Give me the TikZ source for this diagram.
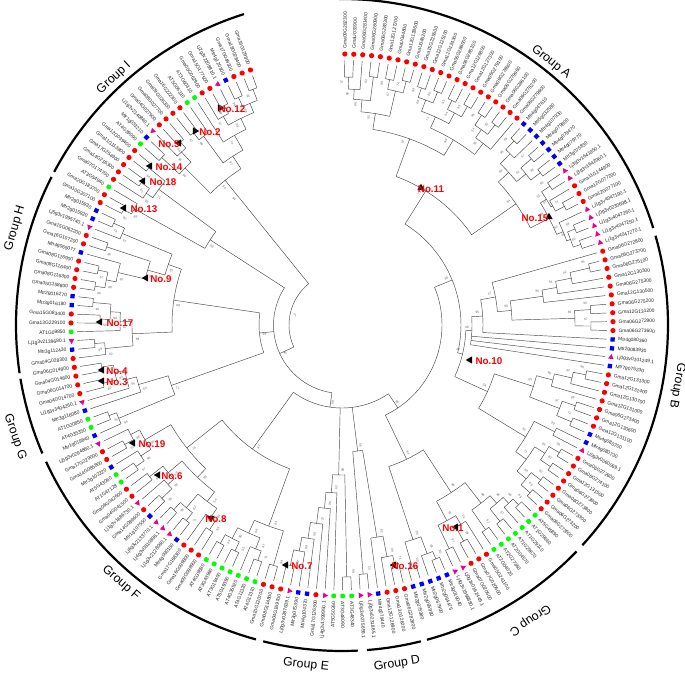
\documentclass[tikz,border=0pt]{standalone}
\usepackage{fontspec}
\setmainfont{Liberation Sans}
\usetikzlibrary{shapes.geometric}
\newcount\supc
\newcommand\lf[3]{%
  \pgfmathsetmacro\ang{89.4-1.887*#1}%
  \expandafter\xdef\csname na@#1\endcsname{\ang}%
  \expandafter\xdef\csname nr@#1\endcsname{265}%
  \node[mk#2,rotate=\ang] (m#1) at (\ang:271) {};%
  \ifdim\ang pt<-90pt
    \pgfmathsetmacro\rang{\ang+180}%
    \node[lab,anchor=east,rotate=\rang] (t#1) at (\ang:276.5) {#3};%
  \else
    \node[lab,anchor=west,rotate=\ang] (t#1) at (\ang:276.5) {#3};%
  \fi}
\newcommand\cl[4][]{%
  \gdef\clfirst{}%
  \foreach \ch in {#4}{%
    \edef\cha{\csname na@\ch\endcsname}%
    \edef\chr{\csname nr@\ch\endcsname}%
    \draw[br] (\cha:#3) -- (\cha:\chr);%
    \ifx\clfirst\empty\xdef\clfirst{\cha}\fi
    \xdef\cllast{\cha}%
  }%
  \def\cltmp{#1}%
  \ifx\cltmp\empty
    \pgfmathsetmacro\clmid{(\clfirst+\cllast)/2}%
  \else
    \def\clmid{#1}%
  \fi
  \pgfmathsetmacro\arcs{max(\clfirst,\clmid)}%
  \pgfmathsetmacro\arce{min(\cllast,\clmid)}%
  \draw[br] (\arcs:#3) arc[start angle=\arcs,end angle=\arce,radius=#3pt];%
  \expandafter\xdef\csname na@#2\endcsname{\clmid}%
  \expandafter\xdef\csname nr@#2\endcsname{#3}%
  \global\advance\supc by 1
  \pgfmathtruncatemacro\sv{{99,57,96,62,88,99,74,97,55,99,80,68,93,99,64,71,99,82,54,95,99,67,89}[mod(\the\supc,23)]}%
  \pgfmathsetmacro\sang{\clmid+1.6}%
  \ifdim\clmid pt<-90pt
    \pgfmathsetmacro\srot{\clmid+180}%
  \else
    \pgfmathsetmacro\srot{\clmid}%
  \fi
  \node[sup,rotate=\srot] (s#2) at (\sang:#3-5) {\sv};}
\newcommand\nolab[5]{%
  \node[tri,rotate=#3] (k#5) at ({#1-342},{325-#2}) {};%
  \node[nol] (n#5) at ({#4-342},{325-#2-1}) {No.#5};}
\newcommand\garc[4]{%
  \draw[garc] (#2:326) arc[start angle=#2,end angle=#3,radius=326pt];}
\begin{document}
\begin{tikzpicture}[x=1pt,y=1pt,
  br/.style={draw=black!72,line width=0.45pt},
  lab/.style={font=\fontsize{4.9}{5.5}\selectfont,text=black!85,inner sep=0pt},
  sup/.style={font=\fontsize{3.2}{3.5}\selectfont,text=black!60,inner sep=0pt},
  mkr/.style={circle,fill=red,inner sep=0pt,minimum size=5.2pt},
  mkb/.style={rectangle,fill=blue,inner sep=0pt,minimum size=4.3pt},
  mkg/.style={rectangle,rounded corners=1pt,fill=green,inner sep=0pt,minimum size=4.5pt},
  mkm/.style={regular polygon,regular polygon sides=3,fill=magenta,inner sep=0pt,minimum size=6.5pt},
  grp/.style={font=\fontsize{12.3}{14}\selectfont,inner sep=0pt},
  nol/.style={font=\fontsize{9.8}{11}\selectfont\bfseries,text=red,inner sep=0pt},
  tri/.style={regular polygon,regular polygon sides=3,fill=black,inner sep=0pt,minimum size=8.5pt},
  garc/.style={line width=2.2pt,black}]
\fill[white] (-342,-349) rectangle (343,325);
\useasboundingbox (-342,-349) rectangle (343,325);
% ---------------- leaves
\lf{0}{r}{Gma09G282300}\lf{1}{r}{GmaU033900}\lf{2}{r}{Gma06G281400}\lf{3}{r}{Gma06G280900}
\lf{4}{r}{Gma06G283300}\lf{5}{r}{Gma12G127200}\lf{6}{r}{GmaU044800}\lf{7}{r}{Gma12G128600}
\lf{8}{r}{GmaU045200}\lf{9}{r}{Gma15G225500}\lf{10}{r}{Gma12G125100}\lf{11}{r}{Gma12G124300}
\lf{12}{r}{Gma06G286000}\lf{13}{r}{Gma06G285100}\lf{14}{r}{Gma12G126800}\lf{15}{r}{Gma12G127300}
\lf{16}{r}{Gma06G279100}\lf{17}{r}{Gma06G278600}\lf{18}{r}{Gma06G279960}\lf{19}{r}{Gma06G286100}
\lf{20}{r}{Gma06G278200}\lf{21}{r}{Gma06G279600}\lf{22}{b}{Mtr4g047610}\lf{23}{b}{Mtr5g032580}
\lf{24}{b}{Mtr4g107930}\lf{25}{b}{Mtr4g079800}\lf{26}{b}{Mtr4g079470}\lf{27}{b}{Mtr4g079770}
\lf{28}{b}{Mtr3g075830}\lf{29}{m}{Lj3g3v1641950.1}\lf{30}{m}{Lj3g3v1642060.1}\lf{31}{r}{Gma11G144900}
\lf{32}{r}{Gma12G077200}\lf{33}{r}{Gma12G077100}\lf{34}{m}{Lj1g3v4047190.1}\lf{35}{m}{Lj0g3v0230698.1}
\lf{36}{m}{Lj1g3v4047260.1}\lf{37}{m}{Lj1g3v4047250.1}\lf{38}{m}{Lj1g3v4047270.1}
\lf{39}{r}{Gma06G272800}\lf{40}{r}{Gma06G273700}\lf{41}{r}{Gma06G275100}\lf{42}{r}{Gma12G130300}
\lf{43}{r}{Gma06G275300}\lf{44}{r}{Gma12G130500}\lf{45}{r}{Gma06G275200}\lf{46}{r}{Gma12G131200}
\lf{47}{r}{Gma06G272900}\lf{48}{r}{Gma06G273600}\lf{49}{b}{Mtr4g080360}\lf{50}{b}{Mtr2g083930}
\lf{51}{m}{Lj0g3v0101249.1}\lf{52}{b}{Mtr7g075230}\lf{53}{r}{Gma12G131300}\lf{54}{r}{Gma12G131400}
\lf{55}{r}{Gma12G130700}\lf{56}{r}{Gma12G131000}\lf{57}{r}{Gma06G273400}\lf{58}{r}{Gma12G130600}
\lf{59}{r}{Gma12G131100}\lf{60}{b}{Mtr4g080700}\lf{61}{b}{Mtr4g080730}\lf{62}{m}{Lj0g3v0060069.1}
\lf{63}{r}{Gma06G272600}\lf{64}{r}{Gma06G274100}\lf{65}{r}{Gma12G131500}\lf{66}{r}{Gma06G273900}
\lf{67}{r}{Gma06G273800}\lf{68}{r}{Gma06G273300}\lf{69}{r}{Gma06G273200}\lf{70}{r}{Gma06G273500}
\lf{71}{g}{AT5G45890}\lf{72}{g}{AT1G29660}\lf{73}{g}{AT1G29110}\lf{74}{g}{AT1G29670}
\lf{75}{g}{AT2G04570}\lf{76}{g}{AT2G27360}\lf{77}{g}{AT2G04020}\lf{78}{r}{Gma05G241100}
\lf{79}{r}{Gma07G020600}\lf{80}{r}{Gma07G020500}\lf{81}{m}{Lj0g3v0162449.1}\lf{82}{m}{Lj4g3v1998880.1}
\lf{83}{b}{Mtr3g019040}\lf{84}{b}{Mtr2g064475}\lf{85}{b}{Mtr2g067900}\lf{86}{b}{Mtr2g065980}
\lf{87}{b}{Mtr2g075380}\lf{88}{r}{Gma06G282800}\lf{89}{r}{Gma13G126200}\lf{90}{r}{Gma12G126900}
\lf{91}{b}{Mtr4g079440}\lf{92}{m}{Lj0g3v0231865.1}\lf{93}{m}{Lj0g3v0275659.1}\lf{94}{g}{AT3G48340}
\lf{95}{g}{AT3G48090}\lf{96}{g}{AT5G50260}\lf{97}{m}{Lj4g3v1399950.1}\lf{98}{r}{Gma17G126300}
\lf{99}{b}{Mtr4g104370}\lf{100}{b}{Mtr3g075390}\lf{101}{m}{Lj0g3v0287639.1}\lf{102}{r}{Gma04G169700}
\lf{103}{r}{Gma08G114800}\lf{104}{r}{Gma10G120700}\lf{105}{g}{AT4G11310}\lf{106}{g}{AT4G11320}
\lf{107}{g}{AT4G35520}\lf{108}{g}{AT5G19390}\lf{109}{g}{AT3G19400}\lf{110}{g}{AT3G43960}
\lf{111}{g}{AT4G39880}\lf{112}{r}{Gma09G098900}\lf{113}{r}{Gma16G099800}\lf{114}{r}{Gma17G168300}
\lf{115}{b}{Mtr4g090150}\lf{116}{m}{Lj1g3v2128060.1}\lf{117}{m}{Lj4g3v0810896.1}\lf{118}{m}{Lj6g3v2133770.1}
\lf{119}{b}{Mtr1g107550}\lf{120}{r}{Gma14G089600}\lf{121}{m}{Lj1g3v1686730.1}\lf{122}{r}{Gma04G041500}
\lf{123}{r}{Gma06G042600}\lf{124}{g}{AT1G47128}\lf{125}{g}{AT5G43060}\lf{126}{b}{Mtr3g102220}
\lf{127}{r}{Gma14G085800}\lf{128}{r}{Gma17G229000}\lf{129}{m}{Lj5g3v0294860.1}\lf{130}{b}{Mtr1g019840}
\lf{131}{g}{AT4G35350}\lf{132}{g}{AT1G20850}\lf{133}{b}{Mtr3g116080}\lf{134}{m}{Lj1g3v3404260.1}
\lf{135}{r}{Gma04G014700}\lf{136}{r}{Gma06G014700}\lf{137}{r}{Gma04G014800}\lf{138}{r}{Gma06G014800}
\lf{139}{r}{Gma04G028300}\lf{140}{b}{Mtr3g112430}\lf{141}{m}{Lj1g3v2139680.1}\lf{142}{g}{AT1G09850}
\lf{143}{r}{Gma13G229100}\lf{144}{r}{Gma15G083400}\lf{145}{b}{Mtr3g016180}\lf{146}{b}{Mtr2g016270}
\lf{147}{r}{Gma05G158800}\lf{148}{r}{Gma08G116300}\lf{149}{r}{Gma08G116400}\lf{150}{r}{Gma08G116900}
\lf{151}{b}{Mtr4g065077}\lf{152}{r}{Gma16G107200}\lf{153}{r}{Gma15G062200}\lf{154}{m}{Lj5g3v1995740.1}
\lf{155}{b}{Mtr2g015920}\lf{156}{b}{Mtr2g015930}\lf{157}{r}{Gma10G207100}\lf{158}{r}{Gma20G183700}
\lf{159}{g}{AT3G54940}\lf{160}{r}{Gma07G174700}\lf{161}{r}{Gma14G216300}\lf{162}{r}{Gma17G254900}
\lf{163}{r}{Gma11G113800}\lf{164}{r}{Gma12G039400}\lf{165}{g}{AT4G39090}\lf{166}{b}{Mtr1g033210}
\lf{167}{m}{Lj1g3v2140860.1}\lf{168}{r}{Gma04G027900}\lf{169}{r}{Gma08G027700}\lf{170}{r}{Gma09G026300}
\lf{171}{r}{Gma16G222300}\lf{172}{g}{AT5G06310}\lf{173}{g}{AT3G60310}\lf{174}{r}{Gma05G062900}
\lf{175}{r}{Gma15G177500}\lf{176}{m}{Lj2g3v2208810.1}\lf{177}{b}{Mtr4g120300}\lf{178}{r}{Gma17G049300}
\lf{179}{r}{Gma18G028400}\lf{180}{r}{Gma16G129800}
% ---------------- Group A
\cl{a1}{248}{0,1}\cl{a2}{236}{a1,2}\cl{a3}{250}{3,4}\cl{a4}{226}{a2,a3}
\cl{a5}{250}{5,6}\cl{a6}{252}{7,8}\cl{a7}{240}{a5,a6}\cl{a8}{214}{a4,a7}
\cl{a9}{250}{9,10}\cl{a10}{252}{11,12}\cl{a11}{240}{a9,a10}\cl{a12}{250}{13,14}
\cl{a13}{252}{15,16}\cl{a14}{240}{a12,a13}\cl{a15}{228}{a11,a14}\cl{a16}{252}{17,18}
\cl{a17}{252}{19,20}\cl{a18}{240}{a16,a17}\cl{a19}{230}{a18,21}\cl{a20}{216}{a15,a19}
\cl{a21}{198}{a8,a20}\cl{a22}{252}{22,23}\cl{a23}{240}{a22,24}\cl{a24}{252}{25,26}
\cl{a25}{250}{27,28}\cl{a26}{238}{a24,a25}\cl{a27}{226}{a23,a26}\cl{a28}{250}{29,30}
\cl{a29}{252}{32,33}\cl{a30}{242}{31,a29}\cl{a31}{240}{a28,a30}\cl{a32}{252}{35,36}
\cl{a33}{252}{37,38}\cl{a34}{244}{a32,a33}\cl{a35}{240}{34,a34}\cl{a36}{233}{a31,a35}
\cl{a37}{212}{a27,a36}\cl[58]{a38}{158}{a21,a37}
% ---------------- Group B
\cl{b1}{254}{40,41}\cl{b2}{234}{b1,42}\cl{b3}{218}{b2,43}\cl{b4}{203}{b3,44}
\cl{b5}{249}{45,46}\cl{b6}{249}{47,48}\cl{b7}{233}{b5,b6}\cl{b8}{170}{b4,b7}
\cl{b9}{156}{39,b8}\cl{b10}{249}{53,54}\cl{b11}{236}{b10,55}\cl{b12}{218}{b11,56}
\cl{b13}{247}{57,58}\cl{b14}{249}{59,60}\cl{b15}{233}{b13,b14}\cl{b16}{201}{b12,b15}
\cl{b18}{252}{63,64}\cl{b19}{252}{65,66}\cl{b20}{240}{b18,b19}\cl{b21}{252}{67,68}
\cl{b22}{252}{69,70}\cl{b23}{240}{b21,b22}\cl{b24}{228}{b20,b23}\cl{b25}{238}{61,62}
\cl{b26}{215}{b25,b24}\cl{b27}{160}{b16,b26}\cl{b30}{141}{b9,49}\cl{b31}{130}{b30,50,51,52}
\cl{b32}{124}{b31,b27}
% ---------------- Groups C, D
\cl{c1}{252}{71,72}\cl{c2}{244}{c1,73}\cl{c3}{252}{74,75}\cl{c4}{236}{c2,c3}
\cl{c5}{250}{76,77}\cl{c6}{226}{c4,c5}\cl{c7}{248}{79,80}\cl{c8}{232}{78,c7}
\cl{c9}{248}{81,82}\cl{c10}{222}{c8,c9}\cl{c11}{200}{c6,c10}\cl{c12}{252}{83,84}
\cl{c13}{244}{c12,85}\cl{c14}{252}{86,87}\cl{c15}{226}{c13,c14}\cl{cgrp}{149}{c11,c15}
\cl{d1}{245}{88,89}\cl{d2}{236}{d1,90}\cl{d3}{215}{d2,91}\cl{d4}{250}{92,93}
\cl{d5}{127}{d3,d4}
% ---------------- Group E
\cl{e1}{252}{94,95}\cl{e2}{246}{101,102}\cl{e3}{230}{100,e2}\cl{e4}{216}{99,e3}
\cl{e5}{200}{98,e4}\cl{e6}{184}{97,e5}\cl{e7}{168}{96,e6}\cl{e8}{150}{e1,e7}
% ---------------- Group F
\cl{f1}{250}{103,104}\cl{f2}{250}{105,106}\cl{f3}{240}{f2,107}\cl{f4}{250}{108,109}
\cl{f5}{250}{110,111}\cl{f6}{240}{f4,f5}\cl{f7}{228}{f3,f6}\cl{f8}{214}{f1,f7}
\cl{f9}{244}{112,113}\cl{f10}{233}{f9,114}\cl{f11}{250}{115,116}\cl{f12}{250}{117,118}
\cl{f13}{240}{f11,f12}\cl{f14}{222}{f10,f13}\cl{f15}{250}{119,120}\cl{f16}{236}{f15,121}
\cl{f17}{245}{122,123}\cl{f18}{228}{f16,f17}\cl{f19}{210}{f14,f18}\cl{f20}{250}{124,125}
\cl{f21}{240}{f20,126}\cl{f22}{248}{127,128}\cl{f23}{238}{f22,129}\cl{f24}{228}{f21,f23}
\cl{f25}{198}{f19,f24}\cl{f26}{153}{f8,f25}
% ---------------- Group G
\cl{g1}{250}{131,132}\cl{g2}{242}{130,g1}\cl{g3}{246}{135,136}\cl{g4}{244}{137,138}
\cl{g5}{232}{g3,g4}\cl{g6}{222}{134,g5}\cl{g7}{212}{133,g6}\cl{g8}{181}{g2,g7}
% ---------------- Group H
\cl{h1}{248}{140,141}\cl{h2}{238}{139,h1}\cl{h3}{242}{143,144}\cl{h4}{250}{145,146}
\cl{h5}{232}{h3,h4}\cl{h6}{222}{142,h5}\cl{h7}{210}{h2,h6}\cl{h8}{250}{147,148}
\cl{h9}{250}{149,150}\cl{h10}{240}{h8,h9}\cl{h11}{230}{h10,151}\cl{h12}{248}{152,153}
\cl{h13}{202}{h11,h12}\cl{h14}{250}{155,156}\cl{h15}{238}{154,h14}\cl{h16}{184}{h13,h15}
\cl{h17}{170}{h7,h16}
% ---------------- Group I
\cl{i1}{247}{157,158}\cl{i2}{238}{i1,159}\cl{i3}{246}{161,162}\cl{i4}{236}{160,i3}
\cl{i5}{249}{163,164}\cl{i6}{228}{i4,i5}\cl{pI}{157}{i2,i6}
\cl{i7}{246}{165,166}\cl{i8}{244}{168,169}\cl{i9}{236}{167,i8}\cl{i10}{222}{i7,i9}
\cl{i12}{243}{170,171}\cl{i13}{234}{i12,172}\cl{i14}{249}{175,176}\cl{i15}{240}{174,i14}
\cl{i16}{250}{177,178}\cl{i17}{252}{179,180}\cl{i18}{240}{i16,i17}\cl{i19}{230}{i15,i18}
\cl{i20}{218}{173,i19}\cl{i21}{201}{i13,i20}\cl{i22}{186}{i10,i21}
% ---------------- deep nodes
\cl{ab}{119}{a38,b32}\cl[-56]{cab}{100}{ab,cgrp}
\cl[-98.4]{rest}{83}{cab,d5,e8,f26}
\cl{hg}{83}{g8,h17}
\cl[-155.4]{yy}{68.5}{rest,hg,pI}
\cl{xI}{171}{i22}
\cl{root}{53}{yy,xI}
% ---------------- group arcs
\garc{A}{90.5}{17.3}{}\garc{B}{15.9}{-42.5}{}\garc{C}{-44}{-74.9}{}\garc{D}{-76}{-85.6}{}
\garc{E}{-87.2}{-104}{}\garc{F}{-105.3}{-155.2}{}\garc{G}{-156.8}{-170.5}{}
\garc{H}{-171.5}{-207}{}\garc{I}{-208}{-252.5}{}
\node[grp,rotate=-38.5] (gA) at (551-342,325-62) {Group A};
\node[grp,rotate=-100] (gB) at (677-342,325-386) {Group B};
\node[grp,rotate=-146.6] (gC) at (530-342,325-620) {Group C};
\node[grp,rotate=9.2] (gD) at (397-342,325-664) {Group D};
\node[grp,rotate=-6] (gE) at (306-342,325-665) {Group E};
\node[grp,rotate=-40.6] (gF) at (121-342,325-583) {Group F};
\node[grp,rotate=-71] (gG) at (15-342,325-437) {Group G};
\node[grp,rotate=73.5] (gH) at (15-342,325-228) {Group H};
\node[grp,rotate=42.7] (gI) at (114-342,325-78) {Group I};
% ---------------- numbered nodes
\nolab{220}{108}{150}{232}{12}
\nolab{195}{131}{150}{210}{2}
\nolab{179}{143}{90}{169}{5}
\nolab{150}{166}{90}{169}{14}
\nolab{143}{181}{90}{163}{18}
\nolab{124}{208}{90}{144}{13}
\nolab{146}{278}{90}{161}{9}
\nolab{100}{322}{90}{120}{17}
\nolab{102}{370}{90}{117}{4}
\nolab{102}{381}{90}{117}{3}
\nolab{133}{443}{90}{152}{19}
\nolab{158}{475}{90}{172}{6}
\nolab{211}{518}{180}{216}{8}
\nolab{286}{565}{90}{302}{7}
\nolab{394}{565}{90}{405}{16}
\nolab{456}{527}{90}{453}{1}
\nolab{470}{360}{90}{489}{10}
\nolab{549}{217}{0}{535}{15}
\nolab{421}{188}{0}{431}{11}
\end{tikzpicture}
\end{document}
